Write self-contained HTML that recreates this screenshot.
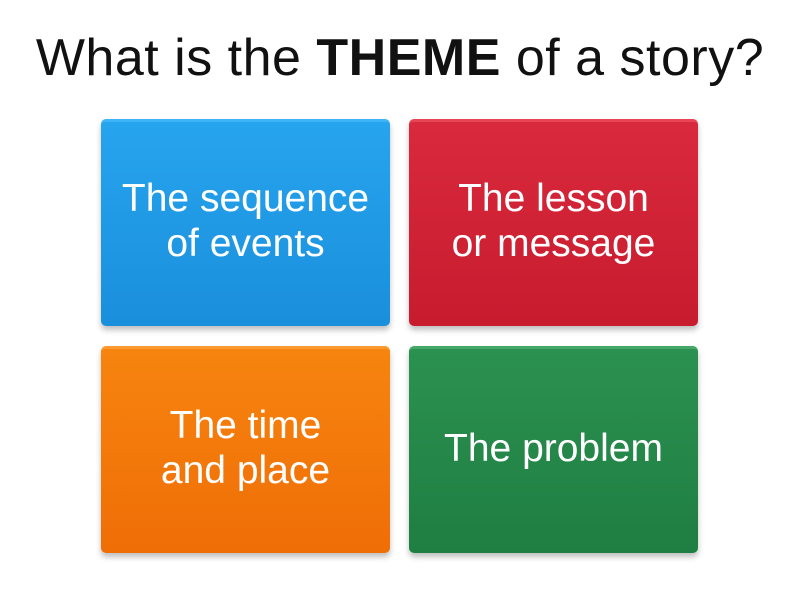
<!DOCTYPE html>
<html><head><style>
body{margin:0;width:800px;height:600px;background:#fff;font-family:"Liberation Sans",sans-serif;position:relative;overflow:hidden}
h1{position:absolute;top:28px;left:0;width:800px;text-align:center;margin:0;font-weight:normal;font-size:52px;color:#111;line-height:60px;letter-spacing:0.5px}
.b{position:absolute;width:289px;height:204px;border-radius:5px;color:#fff;display:flex;align-items:center;justify-content:center;text-align:center;font-size:39px;line-height:45px;box-shadow:0 4px 6px rgba(0,0,0,.25);padding-bottom:6px;box-sizing:border-box}
</style></head><body>
<h1>What is the <b>THEME</b> of a story?</h1>
<div class="b" style="left:101px;top:119px;background:linear-gradient(#27a4ee,#1a8fdc);border-top:3px solid #3db3f8;height:207px">The sequence<br>of events</div>
<div class="b" style="left:409px;top:119px;background:linear-gradient(#d92a3d,#c81b2e);border-top:3px solid #e74556;height:207px">The lesson<br>or message</div>
<div class="b" style="left:101px;top:346px;background:linear-gradient(#f7840f,#ef6e06);border-top:3px solid #fb9a30;height:207px">The time<br>and place</div>
<div class="b" style="left:409px;top:346px;background:linear-gradient(#2b9150,#1f7e42);border-top:3px solid #45a868;height:207px">The problem</div>
</body></html>
